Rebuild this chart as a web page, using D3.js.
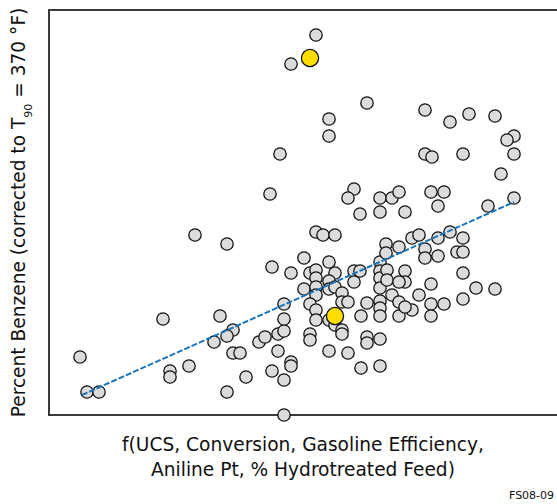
<!DOCTYPE html>
<html>
<head>
  <meta charset="UTF-8">
  <title>Percent Benzene scatter</title>
  <script src="https://d3js.org/d3.v7.min.js"></script>
  <style>
    body { margin: 0; background: white; }
    text { font-family: Tahoma, "DejaVu Sans", Verdana, sans-serif; fill: #111; }
  </style>
</head>
<body>
<svg id="chart"></svg>
<script>

// Data (arbitrary x units, y in percent benzene)

const xVals = [6.2, 7.6, 10.0, 22.8, 24.2, 24.2, 28.0, 29.2, 35.6, 34.2,
               36.8, 35.6, 33.0, 36.8, 38.2, 39.4, 35.6, 42.0, 43.2, 44.6,
               44.6, 44.2, 46.2, 45.8, 47.0, 47.0, 47.0, 45.8, 48.4, 48.4,
               47.0, 47.0, 48.4, 53.4, 48.4, 63.6, 56.0, 56.0, 75.2, 80.2,
               84.0, 89.2, 93.0, 91.6, 75.2, 76.6, 82.8, 93.0, 90.4, 93.0,
               87.8, 61.0, 59.8, 66.2, 68.6, 70.0, 76.4, 79.0, 77.8, 62.2,
               66.2, 71.2, 53.4, 54.8, 57.2, 51.0, 56.0, 52.2, 53.4, 57.2,
               53.4, 56.0, 51.0, 53.4, 53.4, 56.0, 57.2, 58.6, 52.2, 53.4,
               53.4, 56.0, 58.6, 59.8, 57.2, 58.6, 58.6, 52.2, 52.2, 56.0,
               59.8, 61.0, 62.2, 61.0, 63.6, 62.4, 63.6, 63.6, 66.2, 62.4,
               66.2, 66.2, 66.2, 66.2, 66.2, 67.6, 67.6, 67.4, 67.4, 70.0,
               68.6, 66.2, 66.2, 66.2, 70.0, 70.0, 71.2, 71.2, 72.6, 74.0,
               72.6, 74.0, 75.2, 75.2, 77.8, 77.8, 76.4, 76.4, 76.4, 79.0,
               80.2, 82.8, 81.6, 82.8, 82.8, 82.8, 85.4, 89.2, 71.2, 70.0];

const yVals = [0.58, 0.23, 0.23, 0.96, 0.44, 0.38, 0.49, 1.80, 1.71, 0.99,
               0.85, 0.79, 0.73, 0.62, 0.62, 0.38, 0.23, 0.73, 0.78, 1.48,
               0.44, 2.21, 2.61, 0.81, 0.84, 0.96, 1.11, 0.64, 0.53, 0.49,
               0.35, 0.00, 1.42, 3.80, 3.51, 3.12, 2.96, 2.79, 3.05, 2.93,
               3.01, 2.99, 2.79, 2.75, 2.61, 2.58, 2.61, 2.61, 2.41, 2.17,
               2.09, 2.26, 2.17, 2.17, 2.17, 2.23, 2.23, 2.23, 2.09, 2.01,
               2.03, 2.03, 1.83, 1.80, 1.80, 1.57, 1.53, 1.42, 1.45, 1.42,
               1.37, 1.34, 1.26, 1.28, 1.20, 1.26, 1.28, 1.22, 1.11, 1.05,
               0.95, 0.95, 1.13, 1.13, 0.90, 0.85, 0.81, 0.81, 0.75, 0.64,
               0.62, 1.44, 1.44, 1.33, 1.12, 0.99, 0.78, 0.72, 0.76, 0.47,
               0.49, 1.53, 1.44, 1.37, 1.27, 1.45, 1.35, 1.71, 1.62, 1.68,
               1.20, 1.14, 1.07, 0.99, 1.13, 0.99, 1.44, 1.33, 1.77, 1.80,
               1.05, 1.20, 1.66, 1.57, 1.77, 1.59, 1.31, 1.11, 0.99, 1.11,
               1.83, 1.77, 1.63, 1.63, 1.42, 1.16, 1.27, 1.26, 1.08, 1.33];

// highlighted samples
const hiX = [52.2, 57.2];
const hiY = [3.57, 0.99];

// regression line end points
const fitX = [6.6, 93.0];
const fitY = [0.20, 2.13];

const xTitle = ["f(UCS, Conversion, Gasoline Efficiency,", "Aniline Pt, % Hydrotreated Feed)"];
const figCode = "FS08-09";

// Setup

const width = 557;
const height = 504;
const margins = { top: 10, right: -3, bottom: 89, left: 49 };

let svg = d3.select("#chart")
            .attr("width", width)
            .attr("height", height);

// Scales

const xScale = d3.scaleLinear().domain([0, 102.2])
                               .range([margins.left, width - margins.right]);
const yScale = d3.scaleLinear().domain([0, 4.05])
                               .range([height - margins.bottom, margins.top]);

// Frame

svg.append("rect")
   .attr("x", xScale.range()[0])
   .attr("y", yScale.range()[1])
   .attr("width", xScale.range()[1] - xScale.range()[0])
   .attr("height", yScale.range()[0] - yScale.range()[1])
   .style("fill", "none")
   .style("stroke", "#3a3a3a")
   .style("stroke-width", 2);

// Points

let pts = d3.zip(xVals, yVals);
svg.append("g").selectAll("circle")
   .data(pts)
   .join("circle")
   .attr("cx", d => xScale(d[0]))
   .attr("cy", d => yScale(d[1]))
   .attr("r", 6.2)
   .style("fill", "#dcdcdc")
   .style("stroke", "#111")
   .style("stroke-width", 1.3);

// Fit line

let line = d3.line().x(d => xScale(d[0])).y(d => yScale(d[1]));
svg.append("path")
   .datum(d3.zip(fitX, fitY))
   .attr("d", line)
   .style("fill", "none")
   .style("stroke", "#1b75bb")
   .style("stroke-width", 2)
   .style("stroke-dasharray", "6,2");

// Highlighted points

svg.append("g").selectAll("circle")
   .data(d3.zip(hiX, hiY))
   .join("circle")
   .attr("cx", d => xScale(d[0]))
   .attr("cy", d => yScale(d[1]))
   .attr("r", 8.6)
   .style("fill", "#ffdd00")
   .style("stroke", "#111")
   .style("stroke-width", 1.3);

// Labels

let xl = svg.append("text")
   .attr("text-anchor", "middle")
   .style("font-size", "18.6px");
xTitle.forEach((t, i) => {
    xl.append("tspan")
      .attr("x", 303)
      .attr("y", 451 + i * 25)
      .text(t);
});

let yl = svg.append("text")
   .attr("text-anchor", "middle")
   .attr("transform", `translate(25, ${(yScale.range()[0] + yScale.range()[1]) / 2}) rotate(-90)`)
   .style("font-size", "18.6px");
yl.append("tspan").text("Percent Benzene (corrected to T");
yl.append("tspan").attr("baseline-shift", "sub").style("font-size", "11px").text("90");
yl.append("tspan").text(" = 370 °F)");

svg.append("text")
   .attr("x", 509)
   .attr("y", 499)
   .style("font-size", "11px")
   .text(figCode);

</script>
</body>
</html>
